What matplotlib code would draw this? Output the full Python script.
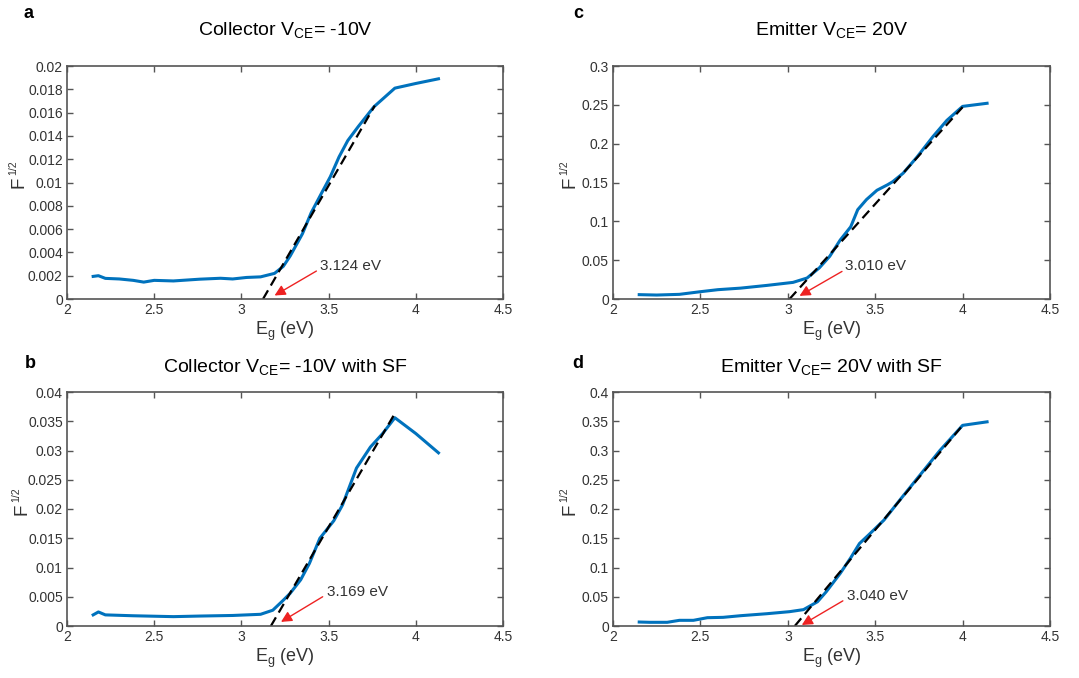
import matplotlib
matplotlib.use("Agg")
import matplotlib.pyplot as plt

plt.rcParams['font.family'] = ['Liberation Sans Narrow', 'Liberation Sans', 'DejaVu Sans']
plt.rcParams['mathtext.fontset'] = 'custom'
plt.rcParams['mathtext.rm'] = 'Liberation Sans'
plt.rcParams['mathtext.it'] = 'Liberation Sans:italic'

# --- panel a: collector, VCE = -10V
eg_a = [2.15, 2.18, 2.22, 2.30, 2.38, 2.44, 2.50, 2.61, 2.76, 2.88, 2.95, 3.03, 3.11,
        3.19, 3.24, 3.28, 3.35, 3.40, 3.46, 3.51, 3.56, 3.61, 3.67, 3.76, 3.88, 4.00, 4.13]
f_a = [0.00194, 0.0020, 0.00177, 0.00172, 0.00160, 0.00145, 0.00160, 0.00155, 0.00170,
       0.00178, 0.00172, 0.00185, 0.0019, 0.0022, 0.0028, 0.0037, 0.0056, 0.0074, 0.0091,
       0.0105, 0.0122, 0.0136, 0.0148, 0.0165, 0.0181, 0.0185, 0.0189]

# --- panel b: collector with SF
eg_b = [2.15, 2.18, 2.22, 2.38, 2.61, 2.76, 2.95, 3.11, 3.18, 3.24, 3.28, 3.34, 3.39,
        3.45, 3.53, 3.58, 3.66, 3.74, 3.81, 3.88, 4.00, 4.13]
f_b = [0.0019, 0.0024, 0.0019, 0.00175, 0.0016, 0.0017, 0.0018, 0.0020, 0.0027, 0.0044,
       0.0056, 0.0079, 0.0107, 0.0150, 0.0180, 0.0207, 0.0270, 0.0306, 0.0329, 0.0356,
       0.0329, 0.0296]

# --- panel c: emitter, VCE = 20V
eg_c = [2.15, 2.25, 2.38, 2.50, 2.60, 2.73, 2.88, 3.03, 3.11, 3.18, 3.24, 3.30, 3.36,
        3.40, 3.45, 3.51, 3.57, 3.60, 3.66, 3.74, 3.83, 3.91, 4.00, 4.14]
f_c = [0.0056, 0.0051, 0.0060, 0.0094, 0.0120, 0.0140, 0.0175, 0.0214, 0.0270, 0.0400,
       0.0550, 0.0760, 0.0930, 0.1150, 0.1280, 0.1400, 0.1470, 0.1510, 0.1620, 0.1830,
       0.2090, 0.2300, 0.2480, 0.2520]

# --- panel d: emitter with SF
eg_d = [2.15, 2.21, 2.31, 2.38, 2.46, 2.54, 2.63, 2.73, 2.88, 3.01, 3.09, 3.17, 3.22,
        3.30, 3.36, 3.41, 3.46, 3.55, 3.64, 3.74, 3.87, 4.00, 4.14]
f_d = [0.0068, 0.0063, 0.0063, 0.0097, 0.0097, 0.0142, 0.0148, 0.0176, 0.0210, 0.0245,
       0.0280, 0.0415, 0.0586, 0.0900, 0.1166, 0.1410, 0.1550, 0.1810, 0.2150, 0.2520,
       0.3000, 0.3430, 0.3490]

# band gap intercepts and end points of the linear fits
gaps = [3.124, 3.169, 3.010, 3.040]
fit_end_x = [3.765, 3.885, 4.00, 4.00]
fit_end_y = [0.0166, 0.0366, 0.247, 0.343]

titles = [r"Collector V$_{\mathrm{CE}}$= -10V", r"Collector V$_{\mathrm{CE}}$= -10V with SF",
          r"Emitter V$_{\mathrm{CE}}$= 20V", r"Emitter V$_{\mathrm{CE}}$= 20V with SF"]
letters = ["a", "b", "c", "d"]
ymax = [0.02, 0.04, 0.3, 0.4]
ystep = [0.002, 0.005, 0.05, 0.05]
ytick_fmt = ["%.3f", "%.3f", "%.2f", "%.2f"]

# annotation text / arrow tail positions (data coords)
text_pos = [(3.45, 0.0028), (3.49, 0.0058), (3.33, 0.042), (3.34, 0.052)]
tail_pos = [(3.43, 0.0024), (3.466, 0.0050), (3.31, 0.0355), (3.315, 0.043)]
head_pos = [(3.19, 0.0003), (3.227, 0.0007), (3.067, 0.004), (3.08, 0.0017)]

series_x = [eg_a, eg_b, eg_c, eg_d]
series_y = [f_a, f_b, f_c, f_d]

fig = plt.figure(figsize=(10.79, 6.78), dpi=100)
W, H = 1079, 678
boxes = [(67, 66, 503, 299), (67, 392, 503, 626), (613, 66, 1050, 299), (613, 392, 1050, 626)]
title_y = [30, 367, 30, 367]
letter_xy = [(29, 13), (30, 363), (578, 13), (578, 363)]
ylab_x = [-0.110, -0.103, -0.098, -0.098]

SPINE = "#555555"
TXT = "#333333"

for i in range(4):
    l, t, r, b = boxes[i]
    ax = fig.add_axes([l / W, 1 - b / H, (r - l) / W, (b - t) / H])
    ax.plot(series_x[i], series_y[i], color="#0072BD", lw=2.2, solid_joinstyle="round")
    x0 = gaps[i]
    ax.plot([x0, fit_end_x[i]], [0, fit_end_y[i]], color="black", lw=1.6,
            linestyle=(0, (4.5, 2.5)))
    ax.annotate("", xy=head_pos[i], xytext=tail_pos[i],
                arrowprops=dict(arrowstyle="-|>", color="#EE2222", lw=1.0,
                                mutation_scale=16, shrinkA=0, shrinkB=0))
    ax.text(text_pos[i][0], text_pos[i][1], "%.3f eV" % gaps[i], fontsize=11,
            color=TXT, ha="left", va="center")

    ax.set_xlim(2, 4.5)
    ax.set_ylim(0, ymax[i])
    ax.set_xticks([2, 2.5, 3, 3.5, 4, 4.5])
    ax.set_xticklabels(["2", "2.5", "3", "3.5", "4", "4.5"])
    n = int(round(ymax[i] / ystep[i]))
    yt = [k * ystep[i] for k in range(n + 1)]
    ax.set_yticks(yt)
    labs = []
    for v in yt:
        s = (ytick_fmt[i] % v).rstrip("0").rstrip(".")
        labs.append(s if s else "0")
    ax.set_yticklabels(labs)
    ax.tick_params(direction="in", top=True, right=True, length=4, width=1.0,
                   color=SPINE, labelsize=10, labelcolor=TXT, pad=3)
    for sp in ax.spines.values():
        sp.set_color(SPINE)
        sp.set_linewidth(1.2)
    ax.set_xlabel(r"E$_{\mathrm{g}}$ (eV)", fontsize=13, color=TXT, labelpad=2)

    # y label: F with a small 1/2 exponent
    ax.text(ylab_x[i], 0.5, "F", rotation=90, fontsize=13.5, color=TXT,
            ha="center", va="center", transform=ax.transAxes)
    ax.annotate("1/2", xy=(ylab_x[i], 0.5), xycoords="axes fraction",
                xytext=(-4.5, 10.5), textcoords="offset points", rotation=90,
                fontsize=7.5, color=TXT, ha="center", va="center")

    cx = (l + r) / 2
    fig.text(cx / W, 1 - title_y[i] / H, titles[i], fontsize=14, color="black",
             ha="center", va="center")
    fig.text(letter_xy[i][0] / W, 1 - letter_xy[i][1] / H, letters[i], fontsize=13,
             fontweight="bold", ha="center", va="center", family="Liberation Sans")

fig.savefig("out.png", dpi=100)
